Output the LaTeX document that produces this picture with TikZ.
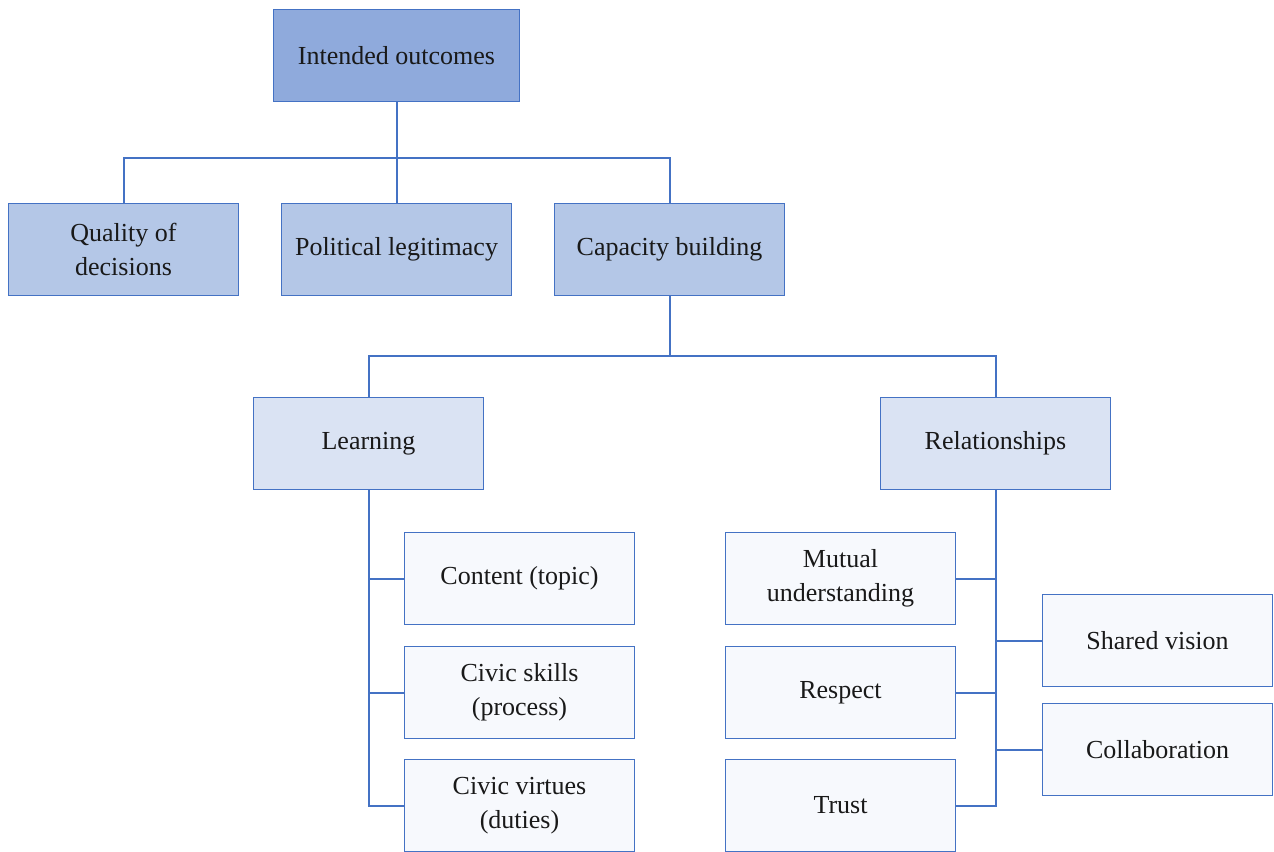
\documentclass[tikz,border=0pt]{standalone}
\usepackage{fontspec}
\setmainfont{Liberation Serif}
\begin{document}
\begin{tikzpicture}[x=0.75pt,y=-0.75pt,
  every node/.style={font=\fontsize{19.5}{25.5}\selectfont, text=black!90},
  box/.style={draw=accent, line width=0.8pt, minimum width=172pt, minimum height=68.5pt,
    inner sep=0pt, align=center},
  lvlA/.style={box, fill=tierA},
  lvlB/.style={box, fill=tierB},
  lvlC/.style={box, fill=tierC},
  lvlD/.style={box, fill=tierD},
  link/.style={draw=accent, line width=1.5pt}]
\definecolor{accent}{HTML}{4472C4}
\definecolor{tierA}{HTML}{8FAADC}
\definecolor{tierB}{HTML}{B4C7E7}
\definecolor{tierC}{HTML}{DAE3F3}
\definecolor{tierD}{HTML}{F7F9FD}
\useasboundingbox (0,0) rectangle (1274,852);

% top level
\node[lvlA, minimum width=185pt] (io) at (396.5,55.5) {Intended outcomes};

% second level
\node[lvlB] (qd) at (123.5,249.5) {Quality of\\decisions};
\node[lvlB] (pl) at (396.5,249.5) {Political legitimacy};
\node[lvlB] (cb) at (669.5,249.5) {Capacity building};

% third level
\node[lvlC] (ln) at (368.5,443.5) {Learning};
\node[lvlC] (rl) at (995.5,443.5) {Relationships};

% learning items
\node[lvlD] (ct) at (519.5,578.5) {Content (topic)};
\node[lvlD] (cs) at (519.5,692.5) {Civic skills\\(process)};
\node[lvlD] (cv) at (519.5,805.5) {Civic virtues\\(duties)};

% relationship items
\node[lvlD] (mu) at (840.5,578.5) {Mutual\\understanding};
\node[lvlD] (rs) at (840.5,692.5) {Respect};
\node[lvlD] (tr) at (840.5,805.5) {Trust};
\node[lvlD] (sv) at (1157.5,640.5) {Shared vision};
\node[lvlD] (cl) at (1157.5,749.5) {Collaboration};

% connectors
\draw[link] (io.south) -- (io.south |- 0,158) -| (qd.north);
\draw[link] (io.south) -- (pl.north);
\draw[link] (io.south |- 0,158) -| (cb.north);

\draw[link] (cb.south) -- (cb.south |- 0,356) -| (ln.north);
\draw[link] (cb.south |- 0,356) -| (rl.north);

\draw[link] (ln.south) |- (ct.west);
\draw[link] (ln.south) |- (cs.west);
\draw[link] (ln.south) |- (cv.west);

\draw[link] (rl.south) |- (mu.east);
\draw[link] (rl.south) |- (rs.east);
\draw[link] (rl.south) |- (tr.east);
\draw[link] (rl.south) |- (sv.west);
\draw[link] (rl.south) |- (cl.west);
\end{tikzpicture}
\end{document}
